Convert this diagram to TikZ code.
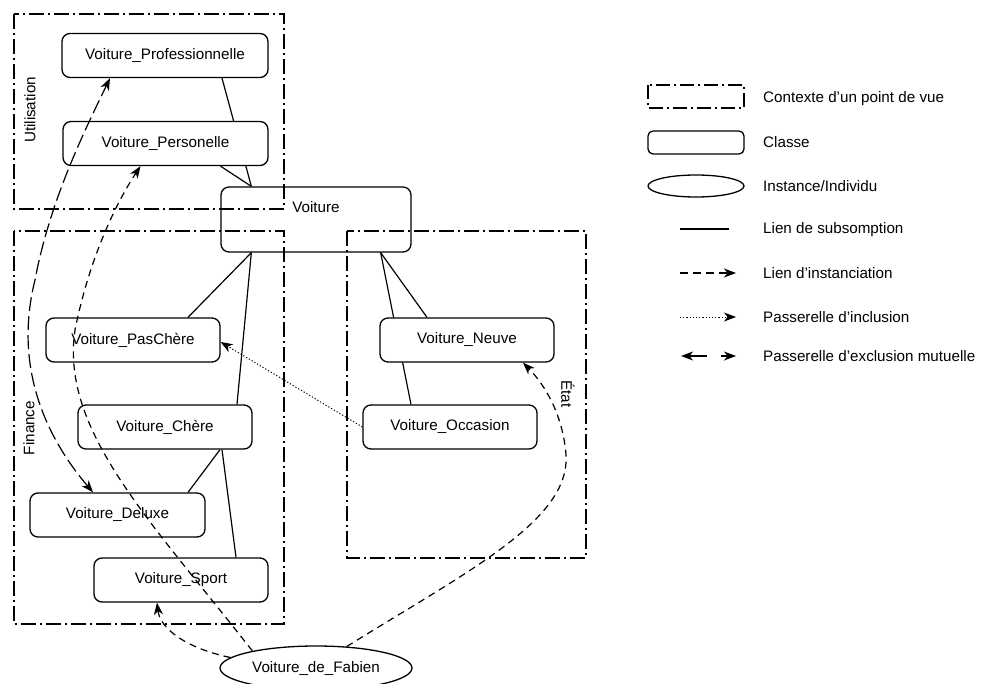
\documentclass[tikz,border=0pt]{standalone}
\usepackage{fontspec}
\setmainfont{Liberation Sans}
\usetikzlibrary{arrows.meta,shapes.geometric,calc}
\pgfdeclarelayer{background}
\pgfsetlayers{background,main}

\tikzset{
  classbox/.style={draw, rounded corners=8pt, line width=1.3pt, fill=white,
    minimum height=44pt, minimum width=174pt, inner sep=0pt},
  instance/.style={draw, ellipse, line width=1.3pt, fill=white,
    minimum width=192pt, minimum height=44pt, inner sep=0pt},
  context/.style={draw, line width=1.4pt, dash pattern=on 15pt off 4pt on 2pt off 4pt},
  subsum/.style={line width=1.2pt},
  stk/.tip={Stealth[length=12pt,width=9pt,inset=3.5pt]},
  inst/.style={-stk, line width=1.2pt, dash pattern=on 7pt off 5pt},
  incl/.style={-stk, line width=1pt, dash pattern=on 1.2pt off 2pt},
  excl/.style={stk-stk, line width=1.2pt, dash pattern=on 14pt off 5pt},
  legtext/.style={anchor=west, inner sep=0pt},
}

\begin{document}
\begin{tikzpicture}[x=1pt, y=-1pt, font=\fontsize{15.2}{18}\selectfont]
\useasboundingbox (0,0) rectangle (984,684);

% classes
\node[classbox, minimum width=206pt] (prof) at (165,55.5) {Voiture\_Professionnelle};
\node[classbox, minimum width=205pt] (pers) at (165.5,143.5) {Voiture\_Personelle};
\node[classbox, minimum width=190pt, minimum height=0pt, text height=26pt, text depth=39pt] (voit) at (316,219.5) {Voiture};
\node[classbox] (pasch) at (133,340) {Voiture\_PasChère};
\node[classbox] (chere) at (165,427) {Voiture\_Chère};
\node[classbox, minimum width=175pt] (deluxe) at (117.5,515) {Voiture\_Deluxe};
\node[classbox] (sport) at (181,580) {Voiture\_Sport};
\node[classbox] (neuve) at (467,340) {Voiture\_Neuve};
\node[classbox] (occ) at (450,427) {Voiture\_Occasion};

% instance
\node[instance] (fab) at (316,668) {Voiture\_de\_Fabien};

% subsumption links (behind the classes)
\begin{pgfonlayer}{background}
\draw[subsum] ([xshift=57pt]prof.south) -- ([xshift=31pt]voit.north west);
\draw[subsum] ([xshift=55pt]pers.south) -- ([xshift=31pt]voit.north west);
\draw[subsum] ([xshift=31pt]voit.south west) -- ([xshift=55pt]pasch.north);
\draw[subsum] ([xshift=31pt]voit.south west) -- ([xshift=72pt]chere.north);
\draw[subsum] ([xshift=55pt]chere.south) -- ([xshift=70.5pt]deluxe.north);
\draw[subsum] ([xshift=57pt]chere.south) -- ([xshift=55pt]sport.north);
\draw[subsum] ([xshift=-31pt]voit.south east) -- ([xshift=-40pt]neuve.north);
\draw[subsum] ([xshift=-31pt]voit.south east) -- ([xshift=-39pt]occ.north);
\end{pgfonlayer}

% viewpoint contexts
\draw[context] (14,14) rectangle (284,209);
\draw[context] (14,231) rectangle (284,624);
\draw[context] (347,231) rectangle (586,558);
\node[rotate=90, inner sep=0pt] (lutil) at (30,110) {Utilisation};
\node[rotate=90, inner sep=0pt] (lfin) at (29,428) {Finance};
\node[rotate=-90, inner sep=0pt] (letat) at (568,394) {État};

% inclusion bridge
\draw[incl] (occ.west) -- ([yshift=-2pt]pasch.east);

% instantiation links
\draw[inst] (fab.173) .. controls (185,648) and (160,628) .. ([xshift=-24pt]sport.south);
\draw[inst] (fab.35) .. controls (470,570) and (570,520) .. (566,455)
  .. controls (563,415) and (545,385) .. ([xshift=56pt]neuve.south);
\draw[inst] (fab.165) .. controls (150,520) and (60,430) .. (75,330)
  .. controls (90,255) and (118,200) .. ([xshift=-25pt]pers.south);

% mutual exclusion bridge
\draw[excl] ([xshift=-24.5pt]deluxe.north) .. controls (40,430) and (15,360) .. (35,280)
  .. controls (50,200) and (85,130) .. ([xshift=-55pt]prof.south);

% legend
\draw[context, dash pattern=on 14pt off 4pt on 2pt off 4pt] (648,85) rectangle (744,108);
\node[legtext] (t1) at (763,99) {Contexte d’un point de vue};
\draw[line width=1.3pt, rounded corners=5pt] (648,131) rectangle (744,154);
\node[legtext] (t2) at (763,142) {Classe};
\draw[line width=1.3pt] (696,186) ellipse [x radius=48, y radius=11];
\node[legtext] (t3) at (763,186) {Instance/Individu};
\draw[subsum] (680,229) -- (729,229);
\node[legtext] (t4) at (763,230) {Lien de subsomption};
\draw[inst, dash pattern=on 8pt off 5pt] (680,273) -- (736,273);
\node[legtext] (t5) at (763,273) {Lien d’instanciation};
\draw[incl] (680,317) -- (736,317);
\node[legtext] (t6) at (763,317) {Passerelle d’inclusion};
\draw[excl, dash pattern=on 18pt off 14pt] (681,356) -- (736,356);
\node[legtext] (t7) at (763,356) {Passerelle d’exclusion mutuelle};
\end{tikzpicture}
\end{document}
